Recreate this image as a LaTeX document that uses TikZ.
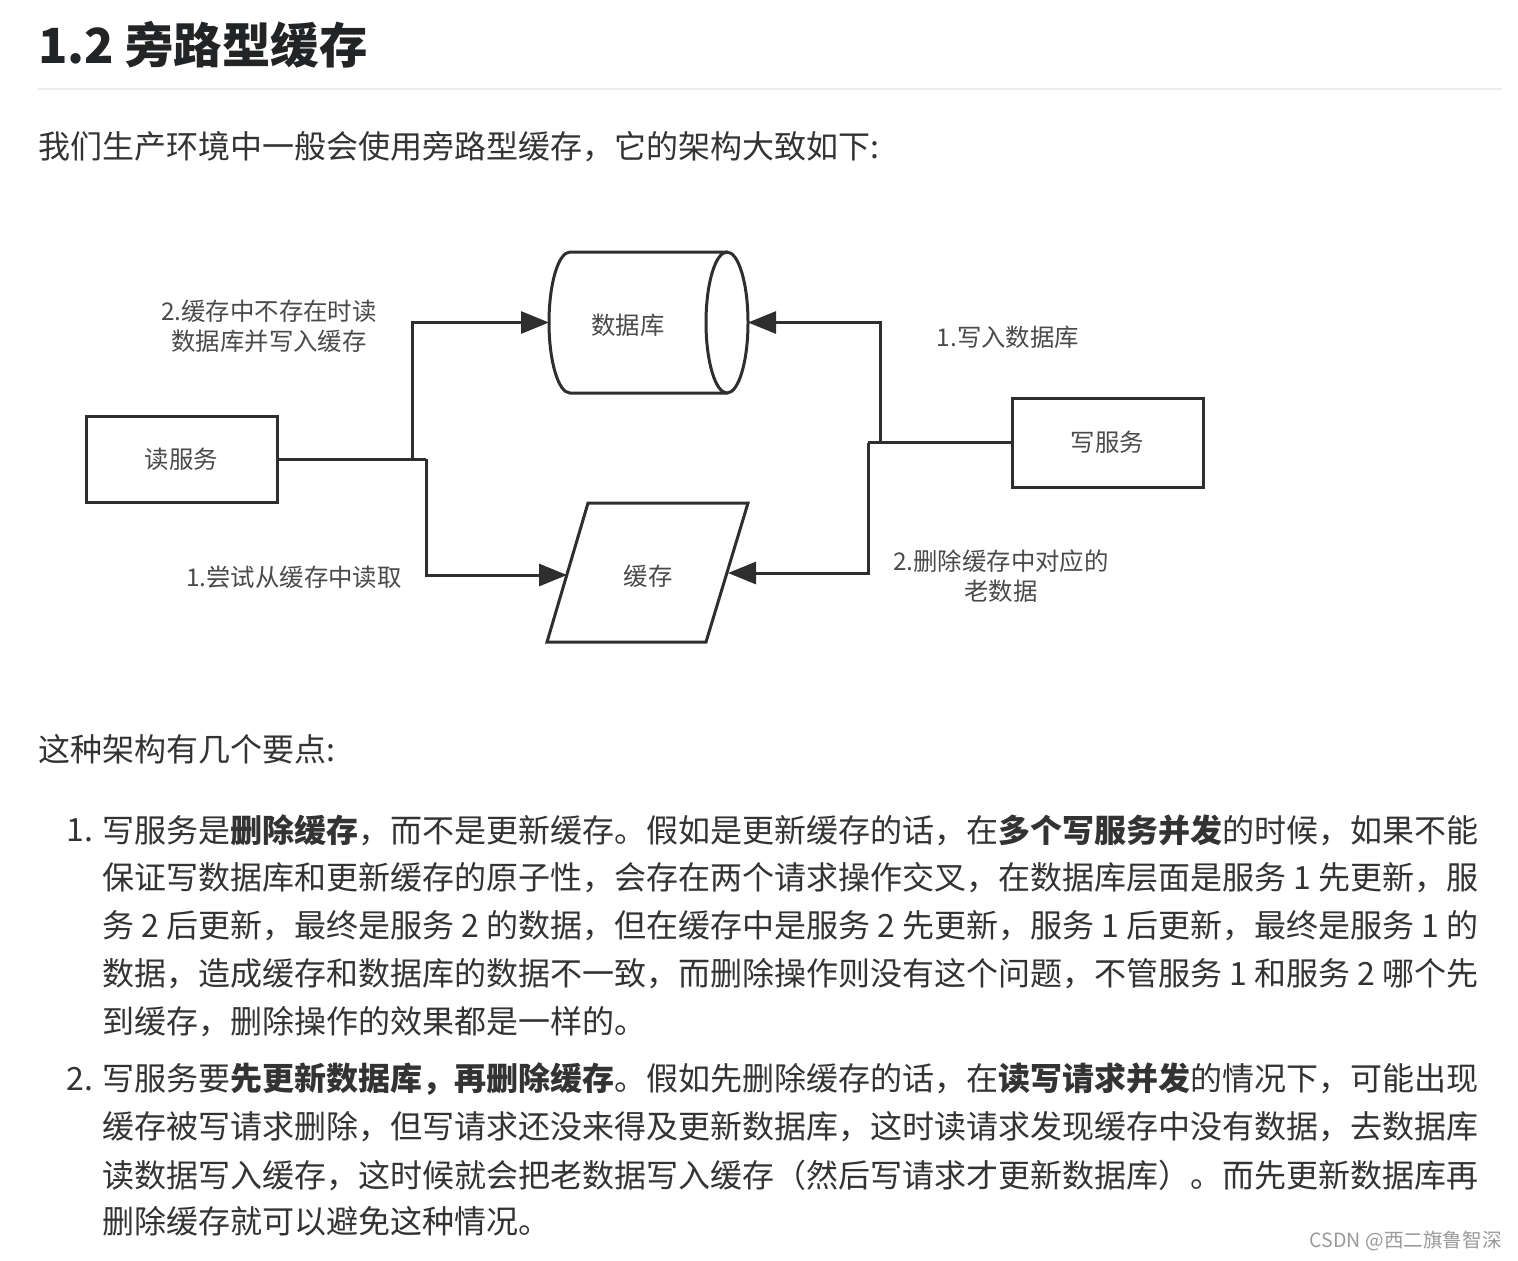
\documentclass[tikz,border=0pt]{standalone}
\usepackage{fontspec}
\setmainfont{Noto Sans CJK SC}
\usetikzlibrary{arrows.meta}
\definecolor{bodytxt}{HTML}{333333}
\definecolor{headtxt}{HTML}{222426}
\definecolor{diagtxt}{HTML}{4A4A4A}
\definecolor{diagline}{HTML}{2E2E2E}
\definecolor{rulegray}{HTML}{EAECEF}
\definecolor{wmark}{HTML}{9A9A9A}
\tikzset{
  body/.style={anchor=west, inner sep=0pt, text=bodytxt, font=\fontsize{16.0pt}{18pt}\selectfont},
  head/.style={anchor=west, inner sep=0pt, text=headtxt, font=\fontsize{24.2pt}{28pt}\selectfont\bfseries},
  dlabel/.style={inner sep=0pt, text=diagtxt, font=\fontsize{12.2pt}{16pt}\selectfont, align=center},
  svcbox/.style={draw=diagline, line width=1.5pt, minimum width=95.5pt, text=diagtxt, font=\fontsize{12.2pt}{16pt}\selectfont, inner sep=0pt},
  shapeline/.style={draw=diagline, line width=1.5pt},
  conn/.style={draw=diagline, line width=1.5pt},
  connarrow/.style={conn, -{Triangle[length=14pt,width=11pt]}},
}
\begin{document}
\begin{tikzpicture}[x=0.5pt,y=-0.5pt]
\useasboundingbox[fill=white] (0,0) rectangle (1518,1260);

% heading
\node[head] (title) at (38,45) {1.2 旁路型缓存};
\coordinate (ruleL) at (38,89);
\coordinate (ruleR) at (1502,89);
\draw[rulegray, line width=1pt] (ruleL) -- (ruleR);
\node[body] (intro) at (38,147) {我们生产环境中一般会使用旁路型缓存，它的架构大致如下:};

% ---------- diagram ----------
% database cylinder
\draw[shapeline] (727,252) -- (570,252) arc[start angle=270, end angle=90, x radius=21, y radius=70.5] -- (727,393);
\draw[shapeline] (727,322.5) ellipse[x radius=21, y radius=70.5];
\node[dlabel] (db) at (628,325) {数据库};
\coordinate (dbL) at (549,322.5);
\coordinate (dbR) at (748,322.5);

% cache parallelogram
\draw[shapeline] (588,503) -- (748,503) -- (706,642) -- (547,642) -- cycle;
\node[dlabel] (cache) at (648,576) {缓存};
\coordinate (cacheL) at (567,575);
\coordinate (cacheR) at (728,573);

% services
\node[svcbox, minimum height=43pt] (read) at (181.5,459) {读服务};
\node[svcbox, minimum height=44.5pt] (write) at (1107.5,442.5) {写服务};

% junctions
\coordinate (j1) at (412,459);
\coordinate (j2) at (426,459);
\coordinate (j3) at (880,442.5);
\coordinate (j4) at (868,442.5);

\draw[conn] (read.east) -- (j2);
\draw[connarrow] (j1) |- (dbL);
\draw[connarrow] (j2) |- (cacheL);
\draw[conn] (write.west) -- (j4);
\draw[connarrow] (j3) |- (dbR);
\draw[connarrow] (j4) |- (cacheR);

% labels
\node[dlabel] (l1) at (269,326) {2.缓存中不存在时读\\[-1pt]数据库并写入缓存};
\node[dlabel] (l2) at (294,577) {1.尝试从缓存中读取};
\node[dlabel] (l3) at (1008,337) {1.写入数据库};
\node[dlabel] (l4) at (1001,576) {2.删除缓存中对应的\\[-1pt]老数据};

% ---------- text ----------
\node[body] (pts) at (38,749) {这种架构有几个要点:};

\node[body] (n1) at (66,830) {1.};
\node[body] (a1) at (102,830) {写服务是\textbf{删除缓存}，而不是更新缓存。假如是更新缓存的话，在\textbf{多个写服务并发}的时候，如果不能};
\node[body] (a2) at (102,878) {保证写数据库和更新缓存的原子性，会存在两个请求操作交叉，在数据库层面是服务 1 先更新，服};
\node[body] (a3) at (102,926) {务 2 后更新，最终是服务 2 的数据，但在缓存中是服务 2 先更新，服务 1 后更新，最终是服务 1 的};
\node[body] (a4) at (102,974) {数据，造成缓存和数据库的数据不一致，而删除操作则没有这个问题，不管服务 1 和服务 2 哪个先};
\node[body] (a5) at (102,1022) {到缓存，删除操作的效果都是一样的。};

\node[body] (n2) at (66,1079) {2.};
\node[body] (b1) at (102,1079) {写服务要\textbf{先更新数据库，再删除缓存}。假如先删除缓存的话，在\textbf{读写请求并发}的情况下，可能出现};
\node[body] (b2) at (102,1127) {缓存被写请求删除，但写请求还没来得及更新数据库，这时读请求发现缓存中没有数据，去数据库};
\node[body] (b3) at (102,1175) {读数据写入缓存，这时候就会把老数据写入缓存（然后写请求才更新数据库）。而先更新数据库再};
\node[body] (b4) at (102,1221) {删除缓存就可以避免这种情况。};

\node[anchor=east, inner sep=0pt, text=wmark, font=\fontsize{9.8pt}{12pt}\selectfont] (wm) at (1502,1241) {CSDN @西二旗鲁智深};
\end{tikzpicture}
\end{document}
